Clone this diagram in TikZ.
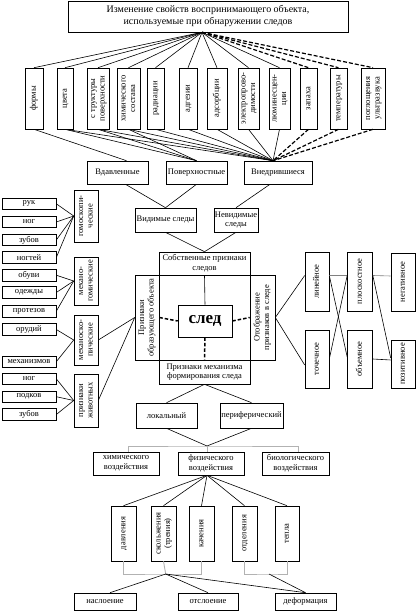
\documentclass[tikz,border=0pt]{standalone}
\usepackage{fontspec}
\setmainfont{Liberation Serif}
\usepackage{graphicx}
\usetikzlibrary{calc, positioning}

\newcommand{\vtxt}[1]{\rotatebox{90}{\begin{tabular}{@{}c@{}}#1\end{tabular}}}

\begin{document}
\begin{tikzpicture}[x=1pt, y=-1pt, line width=0.6pt, font=\fontsize{8.5}{9.5}\selectfont]
	\tikzstyle{box} = [draw=black, rectangle, inner sep=0pt, align=center]
	\tikzstyle{vbox} = [box, minimum height=61pt]
	\tikzstyle{lbox} = [box, minimum width=54pt, minimum height=11.5pt]
	\tikzstyle{dline} = [line width=1.2pt, dash pattern=on 4pt off 2pt]
	\tikzstyle{dthick} = [line width=1.5pt, dash pattern=on 3.5pt off 2pt]
	\tikzstyle{bracket} = [draw=gray!60, line width=0.9pt]

	\useasboundingbox (0,0) rectangle (416,612);

	% top
	\node[box, minimum width=280pt, minimum height=31pt, font=\fontsize{10}{12}\selectfont] at (208,16.5) (q0) {Изменение свойств воспринимающего объекта,\\используемые при обнаружении следов};

	\node[vbox, minimum width=18pt] at (34,98.5)    (f1)  {\vtxt{формы}};
	\node[vbox, minimum width=16pt] at (65,98.5)    (f2)  {\vtxt{цвета}};
	\node[vbox, minimum width=22pt] at (98,98.5)    (f3)  {\vtxt{с труктуры\\поверхности}};
	\node[vbox, minimum width=23pt] at (128.5,98.5) (f4)  {\vtxt{химического\\состава}};
	\node[vbox, minimum width=17pt] at (155.5,98.5) (f5)  {\vtxt{радиации}};
	\node[vbox, minimum width=18pt] at (188,98.5)   (f6)  {\vtxt{адгезии}};
	\node[vbox, minimum width=20pt] at (217,98.5)   (f7)  {\vtxt{адсорбции}};
	\node[vbox, minimum width=21pt] at (248.5,98.5) (f8)  {\vtxt{электропрово-\\димости}};
	\node[vbox, minimum width=21pt] at (279.5,98.5) (f9)  {\vtxt{люминесцен-\\ции}};
	\node[vbox, minimum width=17pt] at (308.5,98.5) (f10) {\vtxt{запаха}};
	\node[vbox, minimum width=17pt] at (338.5,98.5) (f11) {\vtxt{температуры}};
	\node[vbox, minimum width=24pt] at (373,98.5)   (f12) {\vtxt{поглощения\\ультразвука}};

	\node[box, minimum width=61pt, minimum height=23pt] at (117.5,172.5) (t1) {Вдавленные};
	\node[box, minimum width=61pt, minimum height=23pt] at (196.5,172.5) (t2) {Поверхностные};
	\node[box, minimum width=68pt, minimum height=23pt] at (278,172.5)   (t3) {Внедрившиеся};

	\node[box, minimum width=61pt, minimum height=24pt] at (165.5,220) (v1) {Видимые следы};
	\node[box, minimum width=44pt, minimum height=24pt] at (236,220)   (v2) {Невидимые\\следы};

	\coordinate (c0) at ([xshift=-6pt]q0.south);
	\foreach \i in {1,...,9} \draw (c0) -- (f\i.north);
	\foreach \i in {10,11,12} \draw[dline] (c0) -- (f\i.north);

	\draw (f1.south) -- ([xshift=9pt]t1.north);
	\foreach \i in {2,3,4} \draw (f\i.south) -- (t2.north);
	\foreach \i in {2,...,9} \draw (f\i.south) -- ([xshift=-5pt]t3.north);
	\foreach \i in {10,11,12} \draw[dline] (f\i.south) -- ([xshift=-5pt]t3.north);

	\draw ([xshift=8pt]t1.south) -- (v1.north);
	\draw (t2.south) -- (v1.north);
	\draw ([xshift=-8pt]t3.south) -- (v2.north);

	% cross
	\node[box, minimum width=91pt, minimum height=23pt] at (204.5,263.5) (s0) {Собственные признаки\\следов};
	\node[box, minimum width=24pt, minimum height=85pt] at (147,317.5)   (s1) {\vtxt{Признаки\\образующего объекта}};
	\node[box, minimum width=25pt, minimum height=85pt] at (262.5,317.5) (s2) {\vtxt{Отображение\\признаков в следе}};
	\node[box, minimum width=91pt, minimum height=24pt] at (204.5,372)   (s3) {Признаки механизма\\формирования следа};
	\node[box, minimum width=54pt, minimum height=32pt, font=\fontsize{17}{20}\selectfont\bfseries] at (205,321) (sl) {след};

	\draw (v1.south) -- (s0.north);
	\draw (v2.south) -- (s0.north);
	\draw (s0.south) -- (sl.north);
	\draw[dthick] (s1.east) -- (sl.west);
	\draw[dthick] (sl.east) -- (s2.west);
	\draw[dthick] (sl.south) -- (s3.north);

	% right
	\node[box, minimum width=24pt, minimum height=59pt] at (317,281.5) (r1) {\vtxt{линейное}};
	\node[box, minimum width=24pt, minimum height=58pt] at (317,359)   (r2) {\vtxt{точечное}};
	\node[box, minimum width=25pt, minimum height=59pt] at (360,281.5) (r3) {\vtxt{плоскостное}};
	\node[box, minimum width=25pt, minimum height=58pt] at (360,359)   (r4) {\vtxt{объемное}};
	\node[box, minimum width=24pt, minimum height=58pt] at (403,282)   (r5) {\vtxt{негативное}};
	\node[box, minimum width=24pt, minimum height=48pt] at (403,364)   (r6) {\vtxt{позитивное}};

	\draw (s2.east) -- ([yshift=6pt]r1.west);
	\draw (s2.east) -- ([yshift=-6pt]r2.west);
	\draw[gray] ([yshift=6pt]r1.east) -- ([yshift=6pt]r3.west);
	\draw ([yshift=6pt]r1.east) -- ([yshift=2pt]r4.west);
	\draw (r2.east) -- ([yshift=6pt]r3.west);
	\draw[gray] ([yshift=6pt]r3.east) -- ([yshift=6pt]r5.west);
	\draw ([yshift=6pt]r3.east) -- ([yshift=6pt]r6.west);
	\draw (r4.east) -- ([yshift=4pt]r6.west);

	% left
	\node[lbox] at (29,203.8) (a1)  {рук};
	\node[lbox] at (29,222)   (a2)  {ног};
	\node[lbox] at (29,240)   (a3)  {зубов};
	\node[lbox] at (29,257.5) (a4)  {ногтей};
	\node[lbox] at (29,275.2) (a5)  {обуви};
	\node[lbox] at (29,292.5) (a6)  {одежды};
	\node[lbox] at (29,311.2) (a7)  {протезов};
	\node[lbox] at (29,329.5) (a8)  {орудий};
	\node[lbox] at (29,361.7) (a9)  {механизмов};
	\node[lbox] at (29,378.8) (a10) {ног};
	\node[lbox] at (29,396.7) (a11) {подков};
	\node[lbox] at (29,414.5) (a12) {зубов};

	\node[box, minimum width=24pt, minimum height=52pt] at (86,216)   (g1) {\vtxt{гомоскопи-\\ческие}};
	\node[box, minimum width=24pt, minimum height=48pt] at (86,281)   (g2) {\vtxt{механо-\\гомические}};
	\node[box, minimum width=24pt, minimum height=50pt] at (86,340)   (g3) {\vtxt{механоско-\\пические}};
	\node[box, minimum width=24pt, minimum height=53pt] at (86,400.5) (g4) {\vtxt{признаки\\животных}};

	\foreach \i in {1,...,4} \draw (a\i.east) -- (g1.west);
	\foreach \i in {5,6,7} \draw (a\i.east) -- (g2.west);
	\foreach \i in {8,9} \draw (a\i.east) -- (g3.west);
	\foreach \i in {10,11,12} \draw (a\i.east) -- (g4.west);
	\draw (g3.east) -- (s1.west);
	\draw (g4.east) -- (s1.west);

	% bottom
	\node[box, minimum width=61pt, minimum height=25pt] at (166.5,415.5) (m1) {локальный};
	\node[box, minimum width=63pt, minimum height=25pt] at (251.5,415.5) (m2) {периферический};

	\node[box, minimum width=66pt, minimum height=23pt] at (126,463.5)   (h1) {химического\\воздействия};
	\node[box, minimum width=66pt, minimum height=23pt] at (211,463.5)   (h2) {физического\\воздействия};
	\node[box, minimum width=67pt, minimum height=23pt] at (295.5,463.5) (h3) {биологического\\воздействия};

	\draw (s3.south) -- (m1.north);
	\draw (s3.south) -- (m2.north);
	\coordinate (j1) at (207,446);
	\draw (m1.south) -- (j1);
	\draw (m2.south) -- (j1);
	\draw[bracket] ([xshift=2pt]h1.north) |- (j1) -| ([xshift=3pt]h3.north);
	\draw[bracket] (j1) -- (j1 |- h2.north);

	\node[box, minimum width=25pt, minimum height=55pt] at (123.5,533.5) (d1) {\vtxt{давления}};
	\node[box, minimum width=25pt, minimum height=55pt] at (163.5,533.5) (d2) {\vtxt{скольжения\\(трения)}};
	\node[box, minimum width=25pt, minimum height=55pt] at (201.5,533.5) (d3) {\vtxt{качения}};
	\node[box, minimum width=25pt, minimum height=55pt] at (244.5,533.5) (d4) {\vtxt{отделения}};
	\node[box, minimum width=24pt, minimum height=55pt] at (287,533.5)   (d5) {\vtxt{тепла}};

	\foreach \i in {1,...,5} \draw ([xshift=-4pt]h2.south) -- (d\i.north);

	\coordinate (j2) at (165.7,574);
	\coordinate (j3) at (269,574);
	\draw[bracket] (d1.south) |- (j2) -| (d3.south);
	\draw[bracket] (d2.south) -- (j2);
	\draw[bracket] (d4.south) |- (j3) -| (d5.south);

	\node[box, minimum width=62pt, minimum height=17pt] at (105,601.5)   (e1) {наслоение};
	\node[box, minimum width=60pt, minimum height=17pt] at (208,601.5)   (e2) {отслоение};
	\node[box, minimum width=61pt, minimum height=17pt] at (305.5,601.5) (e3) {деформация};

	\draw (j2) -- ([xshift=5pt]e1.north);
	\draw (j2) -- (e2.north);
	\draw (j2) -- (e3.north);
	\draw (j3) -- (e3.north);
\end{tikzpicture}
\end{document}
